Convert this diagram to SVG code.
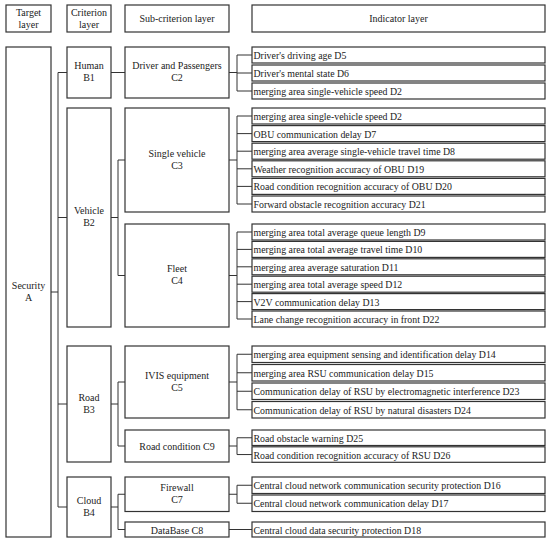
<svg xmlns="http://www.w3.org/2000/svg" width="550" height="545" viewBox="0 0 550 545">
<style>
rect{fill:#fff;stroke:#333;stroke-width:1.2}
text{font-family:"Liberation Serif","Times New Roman",serif;font-size:10px;fill:#222}
.c{text-anchor:middle}
.d{dominant-baseline:central}
g[id^="D"] text{font-size:9.85px}
#connectors path{fill:none;stroke:#333;stroke-width:1}
</style>
<rect x="0" y="0" width="550" height="545" style="stroke:none"/>
<g id="headers">
<g id="h-target"><rect x="6" y="5" width="45" height="27"/><text class="c" x="28.5" y="16">Target</text><text class="c" x="28.5" y="27.5">layer</text></g>
<g id="h-criterion"><rect x="67" y="5" width="44" height="27"/><text class="c" x="89" y="16">Criterion</text><text class="c" x="89" y="27.5">layer</text></g>
<g id="h-sub"><rect x="125" y="5" width="104" height="27"/><text class="c d" x="177" y="18.5">Sub-criterion layer</text></g>
<g id="h-ind"><rect x="252" y="5" width="293" height="27"/><text class="c d" x="398.5" y="18.5">Indicator layer</text></g>
</g>
<g id="connectors">
<path d="M51 292H58M58 72.5V507M58 72.5H67M58 217.5H67M58 404H67M58 507H67"/>
<path d="M111 72.5H125"/>
<path d="M111 217.5H118M118 160V275.5M118 160H125M118 275.5H125"/>
<path d="M111 404H118M118 382V446M118 382H125M118 446H125"/>
<path d="M111 507H118M118 494.25V529.5M118 494.25H125M118 529.5H125"/>
<path d="M229 72.5H237M237 55V91M237 55H252M237 73H252M237 91H252"/>
<path d="M229 160H237M237 116V204M237 116H252M237 133.6H252M237 151.2H252M237 168.8H252M237 186.4H252M237 204H252"/>
<path d="M229 275.5H237M237 232V319M237 232H252M237 249.4H252M237 266.8H252M237 284.2H252M237 301.6H252M237 319H252"/>
<path d="M229 382H237M237 354.25V409.75M237 354.25H252M237 372.75H252M237 391.25H252M237 409.75H252"/>
<path d="M229 446H237M237 437.75V454.55M237 437.75H252M237 454.55H252"/>
<path d="M229 494.25H237M237 485.25V503.25M237 485.25H252M237 503.25H252"/>
<path d="M229 529.5H252"/>
</g>
<g id="A"><rect x="6" y="47" width="45" height="490"/><text class="c" x="28.5" y="289">Security</text><text class="c" x="28.5" y="301">A</text></g>
<g id="B1"><rect x="67" y="47" width="44" height="51"/><text class="c" x="89" y="69">Human</text><text class="c" x="89" y="81">B1</text></g>
<g id="B2"><rect x="67" y="108" width="44" height="219"/><text class="c" x="89" y="214">Vehicle</text><text class="c" x="89" y="226">B2</text></g>
<g id="B3"><rect x="67" y="346" width="44" height="116"/><text class="c" x="89" y="401">Road</text><text class="c" x="89" y="413">B3</text></g>
<g id="B4"><rect x="67" y="477" width="44" height="60"/><text class="c" x="89" y="504">Cloud</text><text class="c" x="89" y="516">B4</text></g>
<g id="C2"><rect x="125" y="47" width="104" height="51"/><text class="c" x="177" y="69">Driver and Passengers</text><text class="c" x="177" y="81">C2</text></g>
<g id="C3"><rect x="125" y="108" width="104" height="104"/><text class="c" x="177" y="157">Single vehicle</text><text class="c" x="177" y="169">C3</text></g>
<g id="C4"><rect x="125" y="224" width="104" height="103"/><text class="c" x="177" y="272">Fleet</text><text class="c" x="177" y="284">C4</text></g>
<g id="C5"><rect x="125" y="346" width="104" height="72"/><text class="c" x="177" y="379">IVIS equipment</text><text class="c" x="177" y="391">C5</text></g>
<g id="C9"><rect x="125" y="430" width="104" height="32"/><text class="c d" x="177" y="446.5">Road condition C9</text></g>
<g id="C7"><rect x="125" y="477" width="104" height="34.5"/><text class="c" x="177" y="491">Firewall</text><text class="c" x="177" y="503">C7</text></g>
<g id="C8"><rect x="125" y="522" width="104" height="15"/><text class="c d" x="177" y="530">DataBase C8</text></g>
<g id="D-human">
<g id="D5"><rect x="252" y="47" width="293" height="16"/><text class="d" x="253.5" y="55.5">Driver's driving age D5</text></g>
<g id="D6"><rect x="252" y="65" width="293" height="16"/><text class="d" x="253.5" y="73.5">Driver's mental state D6</text></g>
<g id="D2a"><rect x="252" y="83" width="293" height="16"/><text class="d" x="253.5" y="91.5">merging area single-vehicle speed D2</text></g>
</g>
<g id="D-single">
<g id="D2b"><rect x="252" y="108" width="293" height="16"/><text class="d" x="253.5" y="116.5">merging area single-vehicle speed D2</text></g>
<g id="D7"><rect x="252" y="125.6" width="293" height="16"/><text class="d" x="253.5" y="134.1">OBU communication delay D7</text></g>
<g id="D8"><rect x="252" y="143.2" width="293" height="16"/><text class="d" x="253.5" y="151.7">merging area average single-vehicle travel time D8</text></g>
<g id="D19"><rect x="252" y="160.8" width="293" height="16"/><text class="d" x="253.5" y="169.3">Weather recognition accuracy of OBU D19</text></g>
<g id="D20"><rect x="252" y="178.4" width="293" height="16"/><text class="d" x="253.5" y="186.9">Road condition recognition accuracy of OBU D20</text></g>
<g id="D21"><rect x="252" y="196" width="293" height="16"/><text class="d" x="253.5" y="204.5">Forward obstacle recognition accuracy D21</text></g>
</g>
<g id="D-fleet">
<g id="D9"><rect x="252" y="224" width="293" height="16"/><text class="d" x="253.5" y="232.5">merging area total average queue length D9</text></g>
<g id="D10"><rect x="252" y="241.4" width="293" height="16"/><text class="d" x="253.5" y="249.9">merging area total average travel time D10</text></g>
<g id="D11"><rect x="252" y="258.8" width="293" height="16"/><text class="d" x="253.5" y="267.3">merging area average saturation D11</text></g>
<g id="D12"><rect x="252" y="276.2" width="293" height="16"/><text class="d" x="253.5" y="284.7">merging area total average speed D12</text></g>
<g id="D13"><rect x="252" y="293.6" width="293" height="16"/><text class="d" x="253.5" y="302.1">V2V communication delay D13</text></g>
<g id="D22"><rect x="252" y="311" width="293" height="16"/><text class="d" x="253.5" y="319.5">Lane change recognition accuracy in front D22</text></g>
</g>
<g id="D-ivis">
<g id="D14"><rect x="252" y="346" width="293" height="16.5"/><text class="d" x="253.5" y="354.75">merging area equipment sensing and identification delay D14</text></g>
<g id="D15"><rect x="252" y="364.5" width="293" height="16.5"/><text class="d" x="253.5" y="373.25">merging area RSU communication delay D15</text></g>
<g id="D23"><rect x="252" y="383" width="293" height="16.5"/><text class="d" x="253.5" y="391.75">Communication delay of RSU by electromagnetic interference D23</text></g>
<g id="D24"><rect x="252" y="401.5" width="293" height="16.5"/><text class="d" x="253.5" y="410.25">Communication delay of RSU by natural disasters D24</text></g>
</g>
<g id="D-roadcond">
<g id="D25"><rect x="252" y="430" width="293" height="15.5"/><text class="d" x="253.5" y="438.25">Road obstacle warning D25</text></g>
<g id="D26"><rect x="252" y="446.8" width="293" height="15.5"/><text class="d" x="253.5" y="455.05">Road condition recognition accuracy of RSU D26</text></g>
</g>
<g id="D-firewall">
<g id="D16"><rect x="252" y="477" width="293" height="16.5"/><text class="d" x="253.5" y="485.75">Central cloud network communication security protection D16</text></g>
<g id="D17"><rect x="252" y="495" width="293" height="16.5"/><text class="d" x="253.5" y="503.75">Central cloud network communication delay D17</text></g>
</g>
<g id="D-db">
<g id="D18"><rect x="252" y="522" width="293" height="15"/><text class="d" x="253.5" y="530">Central cloud data security protection D18</text></g>
</g>
</svg>
